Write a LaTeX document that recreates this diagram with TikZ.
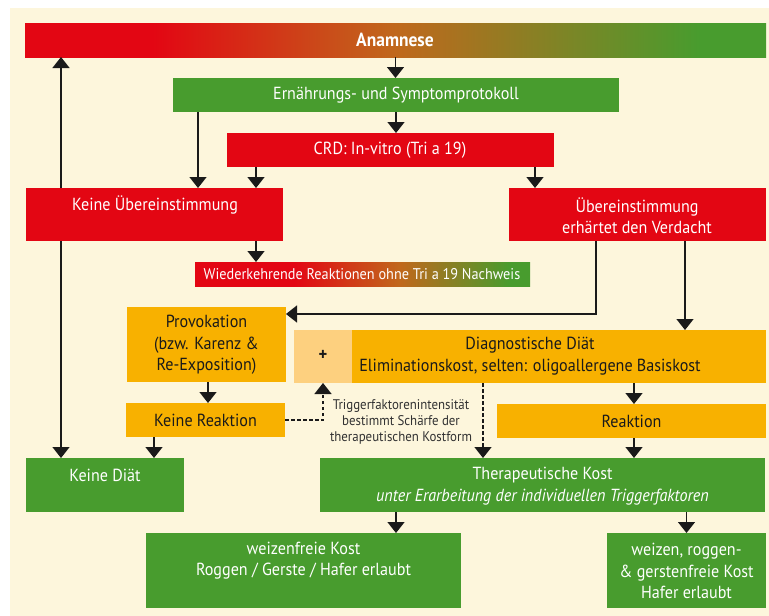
\documentclass[tikz,border=0pt]{standalone}
\usepackage{fontspec}
\setmainfont{PT Sans}[FakeStretch=0.92]
\usetikzlibrary{arrows.meta,calc}
\definecolor{cred}{RGB}{227,6,19}
\definecolor{cgreen}{RGB}{72,156,46}
\definecolor{corange}{RGB}{248,177,0}
\definecolor{clight}{RGB}{253,208,127}
\definecolor{cbg}{RGB}{253,246,220}
\definecolor{cmid}{RGB}{192,104,28}
\definecolor{cink}{RGB}{26,26,26}
\definecolor{cnote}{RGB}{50,50,50}
\pgfdeclarehorizontalshading{anamsh}{100bp}{color(0bp)=(cred); color(33.6bp)=(cred); color(50bp)=(cmid); color(70.5bp)=(cgreen); color(100bp)=(cgreen)}
\pgfdeclarehorizontalshading{wiedsh}{100bp}{color(0bp)=(cred); color(39.8bp)=(cred); color(55.6bp)=(cmid); color(72bp)=(cgreen); color(100bp)=(cgreen)}
\tikzset{
  box/.style={draw=none, inner sep=0pt, outer sep=0pt, anchor=north west},
  wtxt/.style={text=white, align=center, inner sep=0pt, font=\fontsize{17.5}{21.5}\selectfont},
  dtxt/.style={text=cink, align=center, inner sep=0pt, font=\fontsize{17.5}{21.5}\selectfont},
  arr/.style={draw=cink, line width=1.4pt, -{Triangle[width=17pt,length=11pt]}},
  darr/.style={arr, dash pattern=on 3.5pt off 2.5pt},
}
\begin{document}
\begin{tikzpicture}[x=1pt,y=-1pt]
\useasboundingbox (0,0) rectangle (769,616);
\fill[cbg] (10,8) rectangle (769,616);
% boxes
\node[box, shading=anamsh, minimum width=741pt, minimum height=34pt] (anam) at (25,23) {};
\node[box, fill=cgreen, minimum width=446pt, minimum height=34pt] (ern) at (173,78) {};
\node[box, fill=cred, minimum width=327pt, minimum height=34pt] (crd) at (227,133) {};
\node[box, fill=cred, minimum width=257pt, minimum height=53pt] (kub) at (26,188) {};
\node[box, fill=cred, minimum width=257pt, minimum height=53pt] (ueb) at (509,188) {};
\node[box, shading=wiedsh, minimum width=335pt, minimum height=24pt] (wied) at (195,262) {};
\node[box, fill=corange, minimum width=159pt, minimum height=75pt] (prov) at (127,307) {};
\node[box, fill=clight, minimum width=58pt, minimum height=53pt] (plus) at (294,330) {};
\node[box, fill=corange, minimum width=414pt, minimum height=53pt] (diag) at (352,330) {};
\node[box, fill=corange, minimum width=159pt, minimum height=34pt] (krea) at (126,403) {};
\node[box, fill=corange, minimum width=269pt, minimum height=34pt] (rea) at (497,404) {};
\node[box, fill=cgreen, minimum width=158pt, minimum height=54pt] (kdiat) at (26,458) {};
\node[box, fill=cgreen, minimum width=445pt, minimum height=54pt] (ther) at (320,458) {};
\node[box, fill=cgreen, minimum width=315pt, minimum height=75pt] (wf) at (146,533) {};
\node[box, fill=cgreen, minimum width=159pt, minimum height=75pt] (wrg) at (607,533) {};
% texts
\node[wtxt, font=\fontsize{19}{21.5}\selectfont\bfseries] (anam-t) at (395,40) {Anamnese};
\node[wtxt] (ern-t) at (396,95) {Ernährungs- und Symptomprotokoll};
\node[wtxt] (crd-t) at (390,150) {CRD: In-vitro (Tri a 19)};
\node[wtxt] (kub-t) at (155,205) {Keine Übereinstimmung};
\node[wtxt] (ueb-t) at (637,215.5) {Übereinstimmung\\erhärtet den Verdacht};
\node[wtxt, font=\fontsize{15.5}{16}\selectfont] (wied-t) at (362,274) {Wiederkehrende Reaktionen ohne Tri a 19 Nachweis};
\node[dtxt] (prov-t) at (206.5,345) {Provokation\\(bzw. Karenz \&\\Re-Exposition)};
\node[dtxt, font=\fontsize{18}{21.5}\selectfont\bfseries] (plus-t) at (323,355) {+};
\node[dtxt] (diag-t) at (530,356) {Diagnostische Diät\\Eliminationskost, selten: oligoallergene Basiskost};
\node[dtxt] (krea-t) at (205.5,420) {Keine Reaktion};
\node[dtxt] (rea-t) at (631.5,421) {Reaktion};
\node[text=cnote, align=center, inner sep=0pt, font=\fontsize{14}{16}\selectfont] (note) at (401,422) {Triggerfaktorenintensität\\bestimmt Schärfe der\\therapeutischen Kostform};
\node[wtxt] (kdiat-t) at (105,475) {Keine Diät};
\node[wtxt] (ther-t) at (542.5,486) {Therapeutische Kost\\\itshape unter Erarbeitung der individuellen Triggerfaktoren};
\node[wtxt] (wf-t) at (303.5,560.5) {weizenfreie Kost\\Roggen / Gerste / Hafer erlaubt};
\node[wtxt] (wrg-t) at (686.5,571) {weizen, roggen-\\\& gerstenfreie Kost\\Hafer erlaubt};
% connectors
\draw[arr] (anam.south) -- (anam.south |- ern.north);
\draw[arr] (ern.south) -- (ern.south |- crd.north);
\coordinate (c3) at ($(ern.south west)+(25,0)$);
\draw[arr] (c3) -- (c3 |- kub.north);
\coordinate (c4) at ($(crd.south west)+(29,0)$);
\draw[arr] (c4) -- (c4 |- kub.north);
\coordinate (c5) at ($(crd.south east)+(-19,0)$);
\draw[arr] (c5) -- (c5 |- ueb.north);
\coordinate (c6) at ($(kub.north west)+(35,0)$);
\draw[arr] (c6) -- (c6 |- anam.south);
\coordinate (c7) at ($(kub.south west)+(35,0)$);
\draw[arr] (c7) -- (c7 |- kdiat.north);
\coordinate (c8) at ($(kub.south east)+(-27,0)$);
\draw[arr] (c8) -- (c8 |- wied.north);
\coordinate (c9) at ($(ueb.south west)+(87,0)$);
\coordinate (c9b) at ($(prov.north east)+(0,7)$);
\draw[arr] (c9) -- (c9 |- c9b) -- (c9b);
\coordinate (c10) at ($(ueb.south west)+(176,0)$);
\draw[arr] (c10) -- (c10 |- diag.north);
\coordinate (c11) at ($(prov.south west)+(81,0)$);
\draw[arr] (c11) -- (c11 |- krea.north);
\coordinate (c12) at ($(krea.south west)+(28,0)$);
\draw[arr] (c12) -- (c12 |- kdiat.north);
\draw[darr] (krea.east) -- (krea.east -| plus.south) -- (plus.south);
\coordinate (c14) at ($(plus.south west)+(189,0)$);
\draw[darr] (c14) -- (c14 |- ther.north);
\coordinate (c15) at ($(rea.north)+(2.5,0)$);
\draw[arr] (c15 |- diag.south) -- (c15);
\draw[arr] (c15 |- rea.south) -- (c15 |- ther.north);
\coordinate (c17) at ($(ther.south west)+(76,0)$);
\draw[arr] (c17) -- (c17 |- wf.north);
\draw[arr] (wrg.north |- ther.south) -- (wrg.north);
\end{tikzpicture}
\end{document}
